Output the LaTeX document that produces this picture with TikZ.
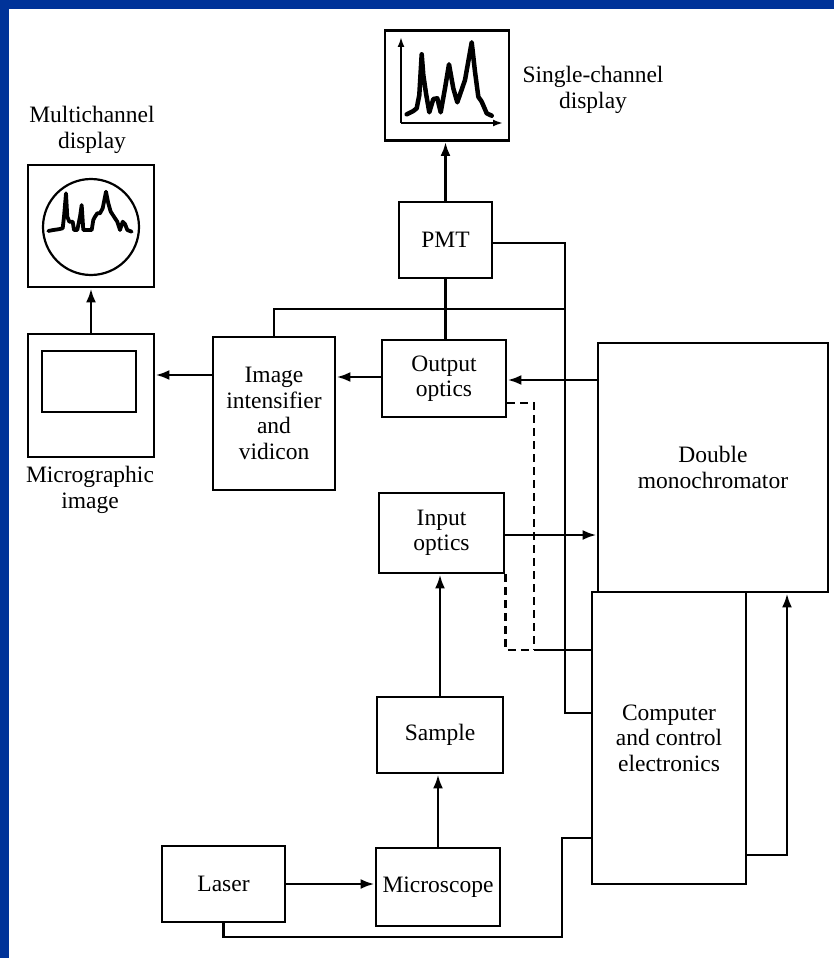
\documentclass[tikz,border=0pt]{standalone}
\usepackage{fontspec}
\setmainfont{Liberation Serif}
\usetikzlibrary{arrows.meta}
\definecolor{bord}{RGB}{0,51,153}
\begin{document}
\begin{tikzpicture}[x=1pt,y=-1pt,
  font=\fontsize{23.5}{25.5}\selectfont,
  line width=2.8pt,
  box/.style={draw, line width=2.8pt, inner sep=0pt, align=center},
  arr/.style={-{Latex[length=14pt,width=10pt]}},
  axis/.style={line width=2.2pt,-{Latex[length=10pt,width=7pt]}},
  spec/.style={line width=4.5pt, line join=round, line cap=round},
  lbl/.style={align=center, inner sep=0pt}]
\fill[bord] (0,0) rectangle (834,958);
\fill[white] (9,9) rectangle (834,958);
\useasboundingbox (0,0) rectangle (834,958);

% boxes
\node[box, minimum width=124pt, minimum height=110pt] (sdisp) at (447,85.5) {};
\node[box, minimum width=93pt, minimum height=76pt] (pmt) at (445.5,240) {PMT};
\node[box, minimum width=124pt, minimum height=77pt] (oopt) at (444,378.5) {Output\\optics};
\node[box, minimum width=230pt, minimum height=249pt] (mono) at (713,467.5) {Double\\monochromator};
\node[box, minimum width=154pt, minimum height=292pt] (comp) at (669,738) {Computer\\and control\\electronics};
\node[box, minimum width=125pt, minimum height=80pt] (iopt) at (441.5,533) {Input\\optics};
\node[box, minimum width=126pt, minimum height=76pt] (sample) at (440,735) {Sample};
\node[box, minimum width=124pt, minimum height=78pt] (micro) at (438,887) {Microscope};
\node[box, minimum width=123pt, minimum height=76pt] (laser) at (223.5,884) {Laser};
\node[box, minimum width=122pt, minimum height=153pt] (imint) at (274,413.5) {Image\\intensifier\\and\\vidicon};
\node[box, minimum width=126pt, minimum height=123pt] (mimg) at (91,395.5) {};
\node[box, minimum width=126pt, minimum height=122pt] (mdisp) at (91,226) {};

% labels
\node[lbl] (lsd) at (593,90) {Single-channel\\display};
\node[lbl] (lmd) at (92,130) {Multichannel\\display};
\node[lbl] (lmi) at (90,490) {Micrographic\\image};

% single-channel display contents
\coordinate (ax0) at (401,123);
\coordinate (axy) at (401,37);
\coordinate (axx) at (503,123);
\draw[axis] (ax0) -- (axy);
\draw[axis] (ax0) -- (axx);
\draw[spec] (406.7,114.3) -- (413.3,111) -- (416.7,108.3) -- (419.3,95) -- (421.7,54.3) -- (423.3,75) -- (426,93.3) -- (429.3,112.3) -- (433.3,99) -- (437.3,98.3) -- (440.7,112.3) -- (445,88.3) -- (449,64.3) -- (453.3,88.3) -- (457.3,102.3) -- (465,80) -- (471.7,42.3) -- (475,71.7) -- (478.3,96.7) -- (481.7,101.7) -- (486.7,113.3) -- (491.7,115.7);

% multichannel display contents
\node[draw, circle, line width=2.2pt, minimum size=96pt, inner sep=0pt] (scr) at (91,227) {};
\draw[line width=3.8pt, line join=round, line cap=round] (48.3,231) -- (53.3,230) -- (58.3,229.3) -- (62.7,228.3) -- (64,216.7) -- (66,193.3) -- (67.3,216.7) -- (69.3,221.7) -- (72.7,221.7) -- (74,230) -- (77.3,230) -- (80,216.7) -- (81.7,205) -- (83.3,230) -- (88.3,230) -- (91.7,230) -- (93.3,220) -- (95,216.7) -- (97.3,213.3) -- (100,213.3) -- (102.7,208.3) -- (106,191.7) -- (108.3,203.3) -- (110.7,211.7) -- (114,216.7) -- (117.3,221.7) -- (120,230) -- (122.7,221.7) -- (125,224) -- (127.3,230) -- (131.7,231.7);

% micrographic image inner screen
\draw[line width=2.6pt] (42,351) rectangle (136,412);

% routing coordinates
\coordinate (c1) at (565,243);
\coordinate (c2) at (565,713);
\coordinate (c3) at (565,309);
\coordinate (c4) at (534,403);
\coordinate (c5) at (534,650);
\coordinate (c8) at (562,937);
\coordinate (c9) at (562,838);
\coordinate (c10) at (787,855);
\coordinate (y380) at (0,380);
\coordinate (y377) at (0,377);
\coordinate (y375) at (0,375);
\coordinate (y535) at (0,535);

% connectors
\draw[arr] (pmt.north) -- (pmt.north |- sdisp.south);
\draw (pmt.east |- c1) -- (c1) -- (c2) -- (comp.west |- c2);
\draw (pmt.south) -- (pmt.south |- oopt.north);
\draw (imint.north) |- (c3);
\draw[arr] (mono.west |- y380) -- (oopt.east |- y380);
\draw[arr] (oopt.west |- y377) -- (imint.east |- y377);
\draw[arr] (imint.west |- y375) -- (mimg.east |- y375);
\draw[arr] (mimg.north) -- (mdisp.south);
\draw[dashed, dash pattern=on 8pt off 5pt] (oopt.east |- c4) -- (c4) -- (c5);
\draw[dashed, dash pattern=on 8pt off 5pt] (iopt.south east) |- (c5);
\draw (c5) -- (comp.west |- c5);
\draw[arr] (iopt.east |- y535) -- (mono.west |- y535);
\draw[arr] (sample.north) -- (sample.north |- iopt.south);
\draw[arr] (micro.north) -- (micro.north |- sample.south);
\draw[arr] (laser.east) -- (micro.west |- laser.east);
\draw (laser.south) |- (c8) -- (c9) -- (comp.west |- c9);
\draw[arr] (comp.east |- c10) -- (c10) -- (mono.south -| c10);
\end{tikzpicture}
\end{document}
